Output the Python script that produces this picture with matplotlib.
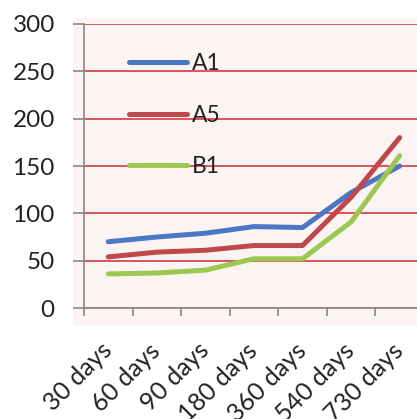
import matplotlib
matplotlib.use("Agg")
import matplotlib.pyplot as plt
from matplotlib.patches import Rectangle

categories = ["30 days", "60 days", "90 days", "180 days", "360 days", "540 days", "730 days"]
a1 = [70, 75, 79, 86, 85, 122, 150]
a5 = [54, 59, 61, 66, 66, 117, 180]
b1 = [36, 37, 40, 52, 52, 91, 161]
series_names = ["A1", "A5", "B1"]
colors = ["#4a78c4", "#c0474b", "#9cc852"]

plt.rcParams['font.family'] = ['Lato', 'DejaVu Sans']

W, H = 417, 419
fig = plt.figure(figsize=(W / 100, H / 100), dpi=100)

ax = fig.add_axes([84 / W, 1 - 308 / H, 340 / W, 284 / H])
ax.set_facecolor("none")

# faint pink plot-area background (extends a little beyond axis)
ax.add_patch(Rectangle((73 / W, 1 - 325 / H), 1, (325 - 18) / H,
                       transform=fig.transFigure, facecolor="#fcf4f2",
                       edgecolor="none", zorder=-5, clip_on=False))

x = list(range(len(categories)))
for vals, name, c in zip([a1, a5, b1], series_names, colors):
    ax.plot(x, vals, color=c, lw=3.6, label=name, solid_capstyle="round",
            solid_joinstyle="round", zorder=3)

ax.set_xlim(-0.5, len(categories) - 0.5)
ax.set_ylim(0, 300)
ax.set_yticks(range(0, 301, 50))
ax.yaxis.grid(True, color="#d9555a", lw=1.4, zorder=1)
ax.set_axisbelow(True)

ax.set_xticks(x)
ax.set_xticklabels(categories, rotation=45, ha="right", va="center",
                   rotation_mode="anchor")
ax.set_xticks([i - 0.5 for i in range(len(categories) + 1)], minor=True)
ax.tick_params(axis="x", which="major", length=0, pad=28, labelsize=18,
               labelcolor="#222222")
ax.tick_params(axis="x", which="minor", length=6, color="#888888", width=1.2)
ax.tick_params(axis="y", length=8, pad=13, labelsize=17.5, color="#888888",
               labelcolor="#222222", width=1.2)

for s in ["top", "right"]:
    ax.spines[s].set_visible(False)
for s in ["left", "bottom"]:
    ax.spines[s].set_color("#888888")
    ax.spines[s].set_linewidth(1.2)

leg = ax.legend(loc="upper left", bbox_to_anchor=(0.105, 0.93), frameon=False,
                fontsize=16.5, handlelength=2.55, handletextpad=0.2,
                labelspacing=1.33, borderaxespad=0)
for t in leg.get_texts():
    t.set_color("#222222")

fig.savefig("out.png", dpi=100)
